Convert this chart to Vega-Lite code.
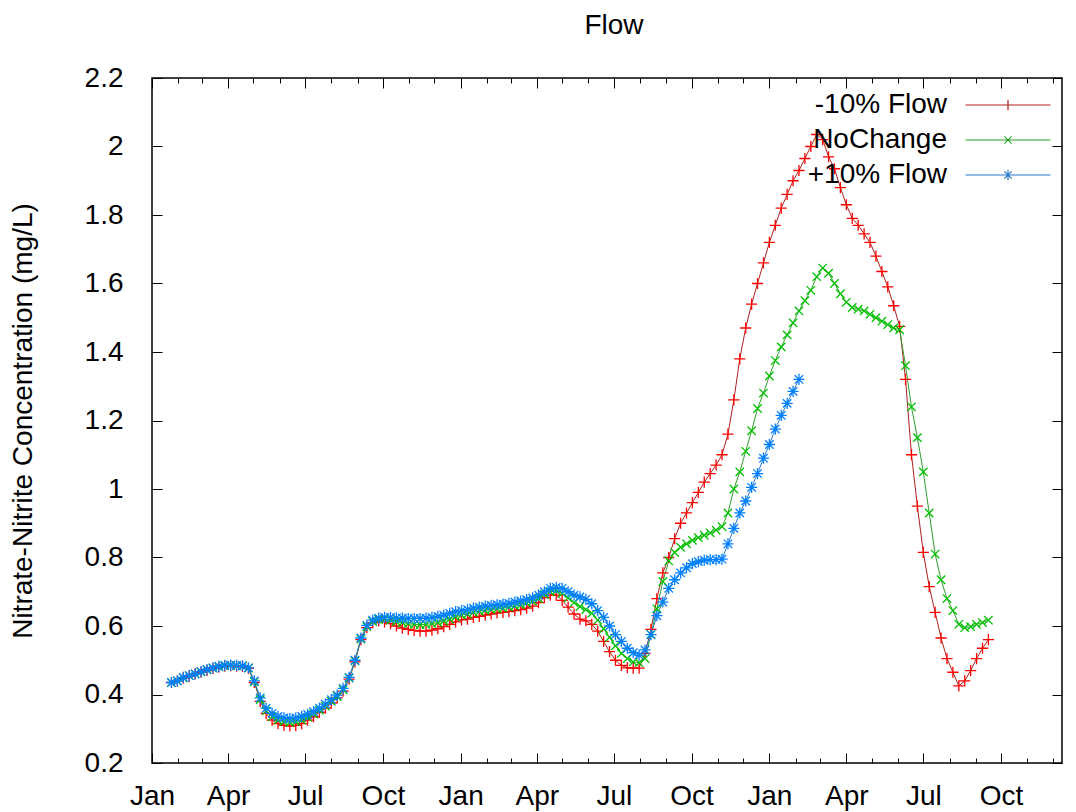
{
  "$schema": "https://vega.github.io/schema/vega-lite/v6.json",
  "autosize": {"type": "none"},
  "width": 910,
  "height": 685,
  "padding": {"left": 152, "top": 78, "right": 14, "bottom": 49},
  "background": "white",
  "title": {"text": "Flow", "font": "Liberation Sans", "fontSize": 28, "fontWeight": "normal", "color": "black", "offset": 24, "dx": 7},
  "config": {
    "view": {"stroke": "black", "strokeWidth": 1.5},
    "font": "Liberation Sans",
    "axis": {"labelFont": "Liberation Sans", "titleFont": "Liberation Sans", "labelColor": "black", "titleColor": "black", "tickColor": "black", "domain": false, "grid": false, "labelFontSize": 28, "titleFontSize": 28, "titleFontWeight": "normal", "tickWidth": 1}
  },
  "data": {"values": [
    {"date": "2006-01-24", "-10% Flow": 0.435, "NoChange": 0.435, "+10% Flow": 0.435},
    {"date": "2006-01-31", "-10% Flow": 0.44, "NoChange": 0.44, "+10% Flow": 0.44},
    {"date": "2006-02-07", "-10% Flow": 0.448, "NoChange": 0.448, "+10% Flow": 0.45},
    {"date": "2006-02-14", "-10% Flow": 0.453, "NoChange": 0.455, "+10% Flow": 0.455},
    {"date": "2006-02-21", "-10% Flow": 0.46, "NoChange": 0.46, "+10% Flow": 0.46},
    {"date": "2006-02-28", "-10% Flow": 0.465, "NoChange": 0.466, "+10% Flow": 0.467},
    {"date": "2006-03-07", "-10% Flow": 0.47, "NoChange": 0.472, "+10% Flow": 0.473},
    {"date": "2006-03-14", "-10% Flow": 0.476, "NoChange": 0.477, "+10% Flow": 0.478},
    {"date": "2006-03-21", "-10% Flow": 0.48, "NoChange": 0.481, "+10% Flow": 0.482},
    {"date": "2006-03-28", "-10% Flow": 0.483, "NoChange": 0.484, "+10% Flow": 0.485},
    {"date": "2006-04-04", "-10% Flow": 0.484, "NoChange": 0.485, "+10% Flow": 0.486},
    {"date": "2006-04-11", "-10% Flow": 0.483, "NoChange": 0.484, "+10% Flow": 0.485},
    {"date": "2006-04-18", "-10% Flow": 0.482, "NoChange": 0.483, "+10% Flow": 0.484},
    {"date": "2006-04-25", "-10% Flow": 0.476, "NoChange": 0.477, "+10% Flow": 0.478},
    {"date": "2006-05-02", "-10% Flow": 0.435, "NoChange": 0.437, "+10% Flow": 0.44},
    {"date": "2006-05-09", "-10% Flow": 0.38, "NoChange": 0.385, "+10% Flow": 0.39},
    {"date": "2006-05-16", "-10% Flow": 0.345, "NoChange": 0.352, "+10% Flow": 0.36},
    {"date": "2006-05-23", "-10% Flow": 0.325, "NoChange": 0.335, "+10% Flow": 0.345},
    {"date": "2006-05-30", "-10% Flow": 0.315, "NoChange": 0.325, "+10% Flow": 0.336},
    {"date": "2006-06-06", "-10% Flow": 0.31, "NoChange": 0.321, "+10% Flow": 0.332},
    {"date": "2006-06-13", "-10% Flow": 0.308, "NoChange": 0.319, "+10% Flow": 0.33},
    {"date": "2006-06-20", "-10% Flow": 0.31, "NoChange": 0.321, "+10% Flow": 0.332},
    {"date": "2006-06-27", "-10% Flow": 0.315, "NoChange": 0.325, "+10% Flow": 0.336},
    {"date": "2006-07-04", "-10% Flow": 0.325, "NoChange": 0.333, "+10% Flow": 0.342},
    {"date": "2006-07-11", "-10% Flow": 0.335, "NoChange": 0.343, "+10% Flow": 0.35},
    {"date": "2006-07-18", "-10% Flow": 0.348, "NoChange": 0.354, "+10% Flow": 0.36},
    {"date": "2006-07-25", "-10% Flow": 0.36, "NoChange": 0.366, "+10% Flow": 0.372},
    {"date": "2006-08-01", "-10% Flow": 0.375, "NoChange": 0.38, "+10% Flow": 0.385},
    {"date": "2006-08-08", "-10% Flow": 0.39, "NoChange": 0.394, "+10% Flow": 0.398},
    {"date": "2006-08-15", "-10% Flow": 0.41, "NoChange": 0.414, "+10% Flow": 0.418},
    {"date": "2006-08-22", "-10% Flow": 0.445, "NoChange": 0.448, "+10% Flow": 0.45},
    {"date": "2006-08-29", "-10% Flow": 0.495, "NoChange": 0.498, "+10% Flow": 0.5},
    {"date": "2006-09-05", "-10% Flow": 0.56, "NoChange": 0.562, "+10% Flow": 0.565},
    {"date": "2006-09-12", "-10% Flow": 0.595, "NoChange": 0.598, "+10% Flow": 0.602},
    {"date": "2006-09-19", "-10% Flow": 0.61, "NoChange": 0.613, "+10% Flow": 0.617},
    {"date": "2006-09-26", "-10% Flow": 0.615, "NoChange": 0.619, "+10% Flow": 0.623},
    {"date": "2006-10-03", "-10% Flow": 0.612, "NoChange": 0.62, "+10% Flow": 0.625},
    {"date": "2006-10-10", "-10% Flow": 0.607, "NoChange": 0.617, "+10% Flow": 0.625},
    {"date": "2006-10-17", "-10% Flow": 0.6, "NoChange": 0.613, "+10% Flow": 0.624},
    {"date": "2006-10-24", "-10% Flow": 0.594, "NoChange": 0.61, "+10% Flow": 0.623},
    {"date": "2006-10-31", "-10% Flow": 0.59, "NoChange": 0.607, "+10% Flow": 0.622},
    {"date": "2006-11-07", "-10% Flow": 0.587, "NoChange": 0.605, "+10% Flow": 0.622},
    {"date": "2006-11-14", "-10% Flow": 0.585, "NoChange": 0.604, "+10% Flow": 0.622},
    {"date": "2006-11-21", "-10% Flow": 0.585, "NoChange": 0.605, "+10% Flow": 0.623},
    {"date": "2006-11-28", "-10% Flow": 0.588, "NoChange": 0.607, "+10% Flow": 0.625},
    {"date": "2006-12-05", "-10% Flow": 0.592, "NoChange": 0.61, "+10% Flow": 0.628},
    {"date": "2006-12-12", "-10% Flow": 0.598, "NoChange": 0.615, "+10% Flow": 0.632},
    {"date": "2006-12-19", "-10% Flow": 0.605, "NoChange": 0.62, "+10% Flow": 0.637},
    {"date": "2006-12-26", "-10% Flow": 0.612, "NoChange": 0.627, "+10% Flow": 0.642},
    {"date": "2007-01-02", "-10% Flow": 0.618, "NoChange": 0.632, "+10% Flow": 0.645},
    {"date": "2007-01-09", "-10% Flow": 0.62, "NoChange": 0.635, "+10% Flow": 0.648},
    {"date": "2007-01-16", "-10% Flow": 0.625, "NoChange": 0.64, "+10% Flow": 0.652},
    {"date": "2007-01-23", "-10% Flow": 0.628, "NoChange": 0.643, "+10% Flow": 0.655},
    {"date": "2007-01-30", "-10% Flow": 0.632, "NoChange": 0.646, "+10% Flow": 0.658},
    {"date": "2007-02-06", "-10% Flow": 0.635, "NoChange": 0.648, "+10% Flow": 0.66},
    {"date": "2007-02-13", "-10% Flow": 0.638, "NoChange": 0.65, "+10% Flow": 0.662},
    {"date": "2007-02-20", "-10% Flow": 0.64, "NoChange": 0.652, "+10% Flow": 0.664},
    {"date": "2007-02-27", "-10% Flow": 0.642, "NoChange": 0.655, "+10% Flow": 0.666},
    {"date": "2007-03-06", "-10% Flow": 0.645, "NoChange": 0.658, "+10% Flow": 0.67},
    {"date": "2007-03-13", "-10% Flow": 0.648, "NoChange": 0.662, "+10% Flow": 0.673},
    {"date": "2007-03-20", "-10% Flow": 0.652, "NoChange": 0.667, "+10% Flow": 0.677},
    {"date": "2007-03-27", "-10% Flow": 0.658, "NoChange": 0.672, "+10% Flow": 0.682},
    {"date": "2007-04-03", "-10% Flow": 0.668, "NoChange": 0.68, "+10% Flow": 0.69},
    {"date": "2007-04-10", "-10% Flow": 0.683, "NoChange": 0.692, "+10% Flow": 0.7},
    {"date": "2007-04-17", "-10% Flow": 0.69, "NoChange": 0.7, "+10% Flow": 0.71},
    {"date": "2007-04-24", "-10% Flow": 0.69, "NoChange": 0.703, "+10% Flow": 0.713},
    {"date": "2007-05-01", "-10% Flow": 0.675, "NoChange": 0.695, "+10% Flow": 0.71},
    {"date": "2007-05-08", "-10% Flow": 0.655, "NoChange": 0.682, "+10% Flow": 0.7},
    {"date": "2007-05-15", "-10% Flow": 0.635, "NoChange": 0.668, "+10% Flow": 0.69},
    {"date": "2007-05-22", "-10% Flow": 0.62, "NoChange": 0.657, "+10% Flow": 0.685},
    {"date": "2007-05-29", "-10% Flow": 0.615, "NoChange": 0.648, "+10% Flow": 0.678},
    {"date": "2007-06-05", "-10% Flow": 0.605, "NoChange": 0.637, "+10% Flow": 0.665},
    {"date": "2007-06-12", "-10% Flow": 0.585, "NoChange": 0.617, "+10% Flow": 0.645},
    {"date": "2007-06-19", "-10% Flow": 0.555, "NoChange": 0.592, "+10% Flow": 0.625},
    {"date": "2007-06-26", "-10% Flow": 0.525, "NoChange": 0.567, "+10% Flow": 0.6},
    {"date": "2007-07-03", "-10% Flow": 0.5, "NoChange": 0.542, "+10% Flow": 0.575},
    {"date": "2007-07-10", "-10% Flow": 0.485, "NoChange": 0.52, "+10% Flow": 0.555},
    {"date": "2007-07-17", "-10% Flow": 0.478, "NoChange": 0.505, "+10% Flow": 0.535},
    {"date": "2007-07-24", "-10% Flow": 0.477, "NoChange": 0.495, "+10% Flow": 0.522},
    {"date": "2007-07-31", "-10% Flow": 0.477, "NoChange": 0.493, "+10% Flow": 0.515},
    {"date": "2007-08-07", "-10% Flow": 0.52, "NoChange": 0.505, "+10% Flow": 0.53},
    {"date": "2007-08-14", "-10% Flow": 0.59, "NoChange": 0.575, "+10% Flow": 0.575},
    {"date": "2007-08-21", "-10% Flow": 0.68, "NoChange": 0.65, "+10% Flow": 0.63},
    {"date": "2007-08-28", "-10% Flow": 0.755, "NoChange": 0.73, "+10% Flow": 0.67},
    {"date": "2007-09-04", "-10% Flow": 0.8, "NoChange": 0.79, "+10% Flow": 0.71},
    {"date": "2007-09-11", "-10% Flow": 0.855, "NoChange": 0.815, "+10% Flow": 0.735},
    {"date": "2007-09-18", "-10% Flow": 0.9, "NoChange": 0.83, "+10% Flow": 0.755},
    {"date": "2007-09-25", "-10% Flow": 0.93, "NoChange": 0.84, "+10% Flow": 0.77},
    {"date": "2007-10-02", "-10% Flow": 0.96, "NoChange": 0.85, "+10% Flow": 0.782},
    {"date": "2007-10-09", "-10% Flow": 0.99, "NoChange": 0.858, "+10% Flow": 0.788},
    {"date": "2007-10-16", "-10% Flow": 1.02, "NoChange": 0.865, "+10% Flow": 0.792},
    {"date": "2007-10-23", "-10% Flow": 1.045, "NoChange": 0.872, "+10% Flow": 0.794},
    {"date": "2007-10-30", "-10% Flow": 1.07, "NoChange": 0.88, "+10% Flow": 0.794},
    {"date": "2007-11-06", "-10% Flow": 1.1, "NoChange": 0.89, "+10% Flow": 0.795},
    {"date": "2007-11-13", "-10% Flow": 1.16, "NoChange": 0.93, "+10% Flow": 0.84},
    {"date": "2007-11-20", "-10% Flow": 1.26, "NoChange": 1.0, "+10% Flow": 0.885},
    {"date": "2007-11-27", "-10% Flow": 1.38, "NoChange": 1.05, "+10% Flow": 0.93},
    {"date": "2007-12-04", "-10% Flow": 1.47, "NoChange": 1.11, "+10% Flow": 0.965},
    {"date": "2007-12-11", "-10% Flow": 1.54, "NoChange": 1.17, "+10% Flow": 1.005},
    {"date": "2007-12-18", "-10% Flow": 1.6, "NoChange": 1.235, "+10% Flow": 1.045},
    {"date": "2007-12-25", "-10% Flow": 1.66, "NoChange": 1.28, "+10% Flow": 1.09},
    {"date": "2008-01-01", "-10% Flow": 1.72, "NoChange": 1.33, "+10% Flow": 1.13},
    {"date": "2008-01-08", "-10% Flow": 1.77, "NoChange": 1.375, "+10% Flow": 1.175},
    {"date": "2008-01-15", "-10% Flow": 1.82, "NoChange": 1.415, "+10% Flow": 1.215},
    {"date": "2008-01-22", "-10% Flow": 1.86, "NoChange": 1.45, "+10% Flow": 1.25},
    {"date": "2008-01-29", "-10% Flow": 1.9, "NoChange": 1.485, "+10% Flow": 1.285},
    {"date": "2008-02-05", "-10% Flow": 1.93, "NoChange": 1.52, "+10% Flow": 1.32},
    {"date": "2008-02-12", "-10% Flow": 1.965, "NoChange": 1.55},
    {"date": "2008-02-19", "-10% Flow": 2.0, "NoChange": 1.58},
    {"date": "2008-02-26", "-10% Flow": 2.035, "NoChange": 1.62},
    {"date": "2008-03-04", "-10% Flow": 2.02, "NoChange": 1.645},
    {"date": "2008-03-11", "-10% Flow": 1.97, "NoChange": 1.63},
    {"date": "2008-03-18", "-10% Flow": 1.935, "NoChange": 1.6},
    {"date": "2008-03-25", "-10% Flow": 1.88, "NoChange": 1.57},
    {"date": "2008-04-01", "-10% Flow": 1.83, "NoChange": 1.545},
    {"date": "2008-04-08", "-10% Flow": 1.79, "NoChange": 1.53},
    {"date": "2008-04-15", "-10% Flow": 1.77, "NoChange": 1.525},
    {"date": "2008-04-22", "-10% Flow": 1.745, "NoChange": 1.52},
    {"date": "2008-04-29", "-10% Flow": 1.72, "NoChange": 1.51},
    {"date": "2008-05-06", "-10% Flow": 1.68, "NoChange": 1.5},
    {"date": "2008-05-13", "-10% Flow": 1.635, "NoChange": 1.49},
    {"date": "2008-05-20", "-10% Flow": 1.59, "NoChange": 1.48},
    {"date": "2008-05-27", "-10% Flow": 1.535, "NoChange": 1.47},
    {"date": "2008-06-03", "-10% Flow": 1.475, "NoChange": 1.465},
    {"date": "2008-06-10", "-10% Flow": 1.32, "NoChange": 1.36},
    {"date": "2008-06-17", "-10% Flow": 1.1, "NoChange": 1.24},
    {"date": "2008-06-24", "-10% Flow": 0.95, "NoChange": 1.15},
    {"date": "2008-07-01", "-10% Flow": 0.815, "NoChange": 1.05},
    {"date": "2008-07-08", "-10% Flow": 0.715, "NoChange": 0.93},
    {"date": "2008-07-15", "-10% Flow": 0.64, "NoChange": 0.81},
    {"date": "2008-07-22", "-10% Flow": 0.565, "NoChange": 0.735},
    {"date": "2008-07-29", "-10% Flow": 0.505, "NoChange": 0.68},
    {"date": "2008-08-05", "-10% Flow": 0.465, "NoChange": 0.645},
    {"date": "2008-08-12", "-10% Flow": 0.425, "NoChange": 0.605},
    {"date": "2008-08-19", "-10% Flow": 0.44, "NoChange": 0.595},
    {"date": "2008-08-26", "-10% Flow": 0.47, "NoChange": 0.598},
    {"date": "2008-09-02", "-10% Flow": 0.505, "NoChange": 0.605},
    {"date": "2008-09-09", "-10% Flow": 0.535, "NoChange": 0.61},
    {"date": "2008-09-16", "-10% Flow": 0.56, "NoChange": 0.617}
  ]},
  "transform": [
    {"fold": ["-10% Flow", "NoChange", "+10% Flow"], "as": ["series", "value"]},
    {"filter": {"field": "value", "valid": true}}
  ],
  "encoding": {
    "color": {
      "field": "series", "type": "nominal",
      "scale": {"domain": ["-10% Flow", "NoChange", "+10% Flow"], "range": ["#ff0000", "#00c000", "#0080ff"]},
      "legend": null
    }
  },
  "layer": [
    {
      "mark": {"type": "line", "strokeWidth": 1},
      "encoding": {
        "stroke": {"field": "series", "type": "nominal",
          "scale": {"domain": ["-10% Flow", "NoChange", "+10% Flow"], "range": ["#b02020", "#2ea02e", "#2a78c8"]},
          "legend": {
            "orient": "none", "legendX": 842, "legendY": 13, "title": null, "direction": "vertical", "padding": 0,
            "symbolSize": 676, "symbolStrokeWidth": 1.2, "labelAlign": "right", "labelOffset": -75,
            "labelFontSize": 28, "labelFont": "Liberation Sans", "labelColor": "black", "labelLimit": 400, "rowPadding": 7,
            "encode": {"symbols": {
              "enter": {
                "shape": {"signal": "datum.value === '-10% Flow' ? 'M-3.27,0L3.27,0M0,-0.4L0,0.4' : datum.value === 'NoChange' ? 'M-3.27,0L3.27,0M-0.28,-0.28L0.28,0.28M-0.28,0.28L0.28,-0.28' : 'M-3.27,0L3.27,0M0,-0.4L0,0.4M-0.28,-0.28L0.28,0.28M-0.28,0.28L0.28,-0.28'"}
              },
              "update": {
                "shape": {"signal": "datum.value === '-10% Flow' ? 'M-3.27,0L3.27,0M0,-0.4L0,0.4' : datum.value === 'NoChange' ? 'M-3.27,0L3.27,0M-0.28,-0.28L0.28,0.28M-0.28,0.28L0.28,-0.28' : 'M-3.27,0L3.27,0M0,-0.4L0,0.4M-0.28,-0.28L0.28,0.28M-0.28,0.28L0.28,-0.28'"},
                "fill": {"value": "transparent"}
              }
            }}
          }},
        "x": {"field": "date", "type": "temporal",
          "scale": {"type": "utc", "domain": [{"year": 2006, "month": 1, "date": 1, "utc": true}, {"year": 2008, "month": 12, "date": 12, "utc": true}]},
          "axis": {"orient": "bottom", "format": "%b", "tickCount": {"interval": "month", "step": 3}, "tickSize": -10, "labelPadding": 29, "labelFlush": false, "labelOverlap": false, "title": null}},
        "y": {"field": "value", "type": "quantitative",
          "scale": {"domain": [0.2, 2.2], "nice": false, "zero": false},
          "axis": {"orient": "left", "values": [0.2, 0.4, 0.6, 0.8, 1, 1.2, 1.4, 1.6, 1.8, 2, 2.2], "format": "~g", "tickSize": -10, "labelPadding": 39, "title": "Nitrate-Nitrite Concentration (mg/L)", "titlePadding": 47}}
      }
    },
    {
      "transform": [{"filter": "datum.series === '-10% Flow'"}],
      "mark": {"type": "point", "filled": false, "strokeWidth": 1.3, "size": 125, "opacity": 1, "shape": "M-1,0L1,0M0,-1L0,1"},
      "encoding": {
        "x": {"field": "date", "type": "temporal",
          "scale": {"type": "utc", "domain": [{"year": 2006, "month": 1, "date": 1, "utc": true}, {"year": 2008, "month": 12, "date": 12, "utc": true}]},
          "axis": {"orient": "bottom", "tickCount": {"interval": "month", "step": 1}, "tickSize": -5, "labels": false, "title": null}},
        "y": {"field": "value", "type": "quantitative",
          "scale": {"domain": [0.2, 2.2], "nice": false, "zero": false},
          "axis": {"orient": "right", "values": [0.2, 0.4, 0.6, 0.8, 1, 1.2, 1.4, 1.6, 1.8, 2, 2.2], "tickSize": -10, "labels": false, "title": null}}
      }
    },
    {
      "transform": [{"filter": "datum.series === 'NoChange'"}],
      "mark": {"type": "point", "filled": false, "strokeWidth": 1.3, "size": 125, "opacity": 1, "shape": "M-0.75,-0.75L0.75,0.75M-0.75,0.75L0.75,-0.75"},
      "encoding": {
        "x": {"field": "date", "type": "temporal",
          "scale": {"type": "utc", "domain": [{"year": 2006, "month": 1, "date": 1, "utc": true}, {"year": 2008, "month": 12, "date": 12, "utc": true}]},
          "axis": {"orient": "top", "tickCount": {"interval": "month", "step": 3}, "tickSize": -10, "labels": false, "title": null}},
        "y": {"field": "value", "type": "quantitative",
          "scale": {"domain": [0.2, 2.2], "nice": false, "zero": false}, "axis": null}
      }
    },
    {
      "transform": [{"filter": "datum.series === '+10% Flow'"}],
      "mark": {"type": "point", "filled": false, "strokeWidth": 1.3, "size": 125, "opacity": 1, "shape": "M-1,0L1,0M0,-1L0,1M-0.75,-0.75L0.75,0.75M-0.75,0.75L0.75,-0.75"},
      "encoding": {
        "x": {"field": "date", "type": "temporal",
          "scale": {"type": "utc", "domain": [{"year": 2006, "month": 1, "date": 1, "utc": true}, {"year": 2008, "month": 12, "date": 12, "utc": true}]},
          "axis": {"orient": "top", "tickCount": {"interval": "month", "step": 1}, "tickSize": -5, "labels": false, "title": null}},
        "y": {"field": "value", "type": "quantitative",
          "scale": {"domain": [0.2, 2.2], "nice": false, "zero": false}, "axis": null}
      }
    }
  ],
  "resolve": {"axis": {"x": "independent", "y": "independent"}}
}
